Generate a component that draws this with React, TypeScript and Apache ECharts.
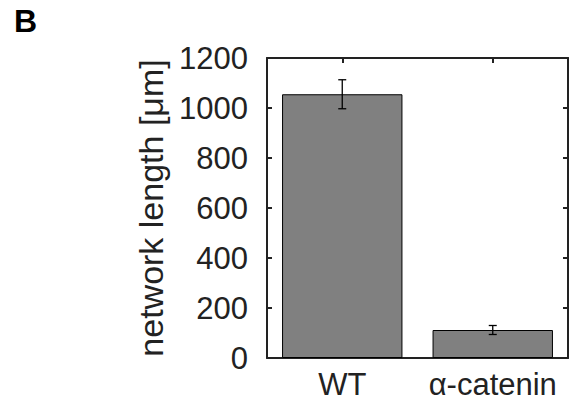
import React, { useEffect, useRef } from "react";
import * as echarts from "echarts";

const categories = ["WT", "α-catenin"];
const values = [1055, 112];
const errors = [58, 18];
const yTicks = { min: 0, max: 1200, interval: 200 };

export default function App() {
  const ref = useRef<HTMLDivElement>(null);
  useEffect(() => {
    if (!ref.current) return;
    const chart = echarts.init(ref.current, null, { renderer: "svg" });
    const axisColor = "#222";
    const font = "Liberation Sans, Arial, sans-serif";
    const tick = { show: true, inside: true, length: 5, lineStyle: { color: axisColor, width: 2 } };
    const line = { show: true, onZero: false, lineStyle: { color: axisColor, width: 2 } };
    chart.setOption({
      animation: false,
      backgroundColor: "#fff",
      grid: { left: 267, right: 2, top: 58, bottom: 50, containLabel: false },
      title: {
        text: "B",
        left: 9,
        top: 0,
        textStyle: { fontFamily: font, fontWeight: "bold", fontSize: 32, color: "#000" },
      },
      xAxis: [
        {
          type: "category",
          data: categories,
          position: "bottom",
          axisLine: line,
          axisTick: { ...tick, alignWithLabel: true, interval: 0 },
          axisLabel: { color: "#222", fontSize: 31, fontFamily: font, margin: 11, interval: 0 },
        },
        {
          type: "category",
          data: categories,
          position: "top",
          axisLine: line,
          axisTick: { ...tick, alignWithLabel: true, interval: 0 },
          axisLabel: { show: false, interval: 0 },
        },
      ],
      yAxis: [
        {
          type: "value",
          min: yTicks.min,
          max: yTicks.max,
          interval: yTicks.interval,
          position: "left",
          name: "network length [μm]",
          nameLocation: "middle",
          nameGap: 92,
          nameTextStyle: { color: "#222", fontSize: 34, fontFamily: font },
          splitLine: { show: false },
          axisLine: line,
          axisTick: tick,
          axisLabel: { color: "#222", fontSize: 31, fontFamily: font, margin: 19, formatter: (v: number) => String(v) },
        },
        {
          type: "value",
          min: yTicks.min,
          max: yTicks.max,
          interval: yTicks.interval,
          position: "right",
          splitLine: { show: false },
          axisLine: line,
          axisTick: tick,
          axisLabel: { show: false },
        },
      ],
      series: [
        {
          type: "bar",
          data: values,
          xAxisIndex: 0,
          yAxisIndex: 0,
          barWidth: "80%",
          itemStyle: { color: "#808080", borderColor: "#000", borderWidth: 1 },
        },
        {
          type: "custom",
          xAxisIndex: 1,
          yAxisIndex: 1,
          data: values.map((v, i) => [i, v - errors[i], v + errors[i]]),
          z: 10,
          renderItem: (params: any, api: any) => {
            const x = api.value(0);
            const lo = api.coord([x, api.value(1)]);
            const hi = api.coord([x, api.value(2)]);
            const w = 4;
            const style = { stroke: "#000", lineWidth: 1.3 };
            return {
              type: "group",
              children: [
                { type: "line", shape: { x1: lo[0], y1: lo[1], x2: hi[0], y2: hi[1] }, style },
                { type: "line", shape: { x1: lo[0] - w, y1: lo[1], x2: lo[0] + w, y2: lo[1] }, style },
                { type: "line", shape: { x1: hi[0] - w, y1: hi[1], x2: hi[0] + w, y2: hi[1] }, style },
              ],
            };
          },
        },
      ],
    });
    return () => chart.dispose();
  }, []);
  return (
    <div
      ref={ref}
      style={{ position: "fixed", left: 0, top: 0, width: 570, height: 408, background: "#fff" }}
    />
  );
}
